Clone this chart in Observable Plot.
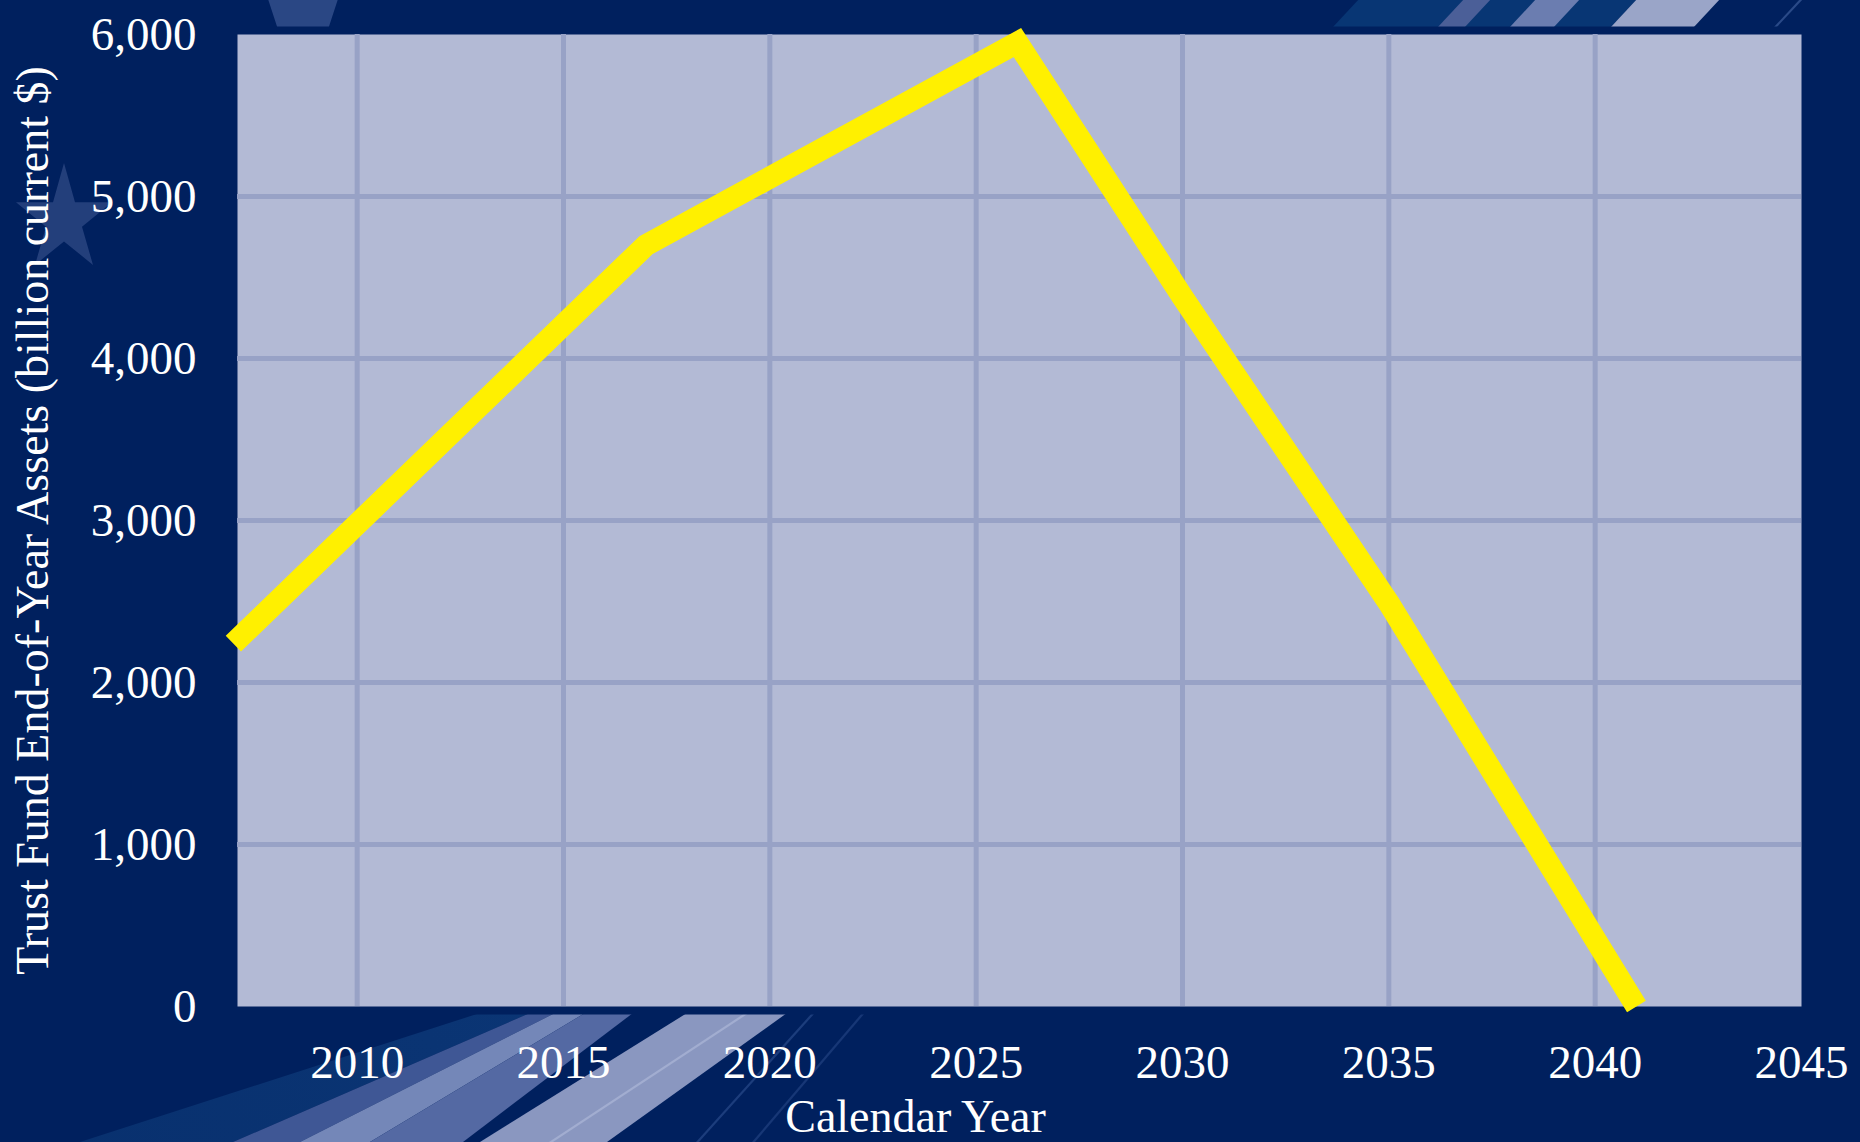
<!DOCTYPE html>
<html>
<head>
<meta charset="utf-8">
<script src="https://cdn.jsdelivr.net/npm/d3@7"></script>
<script src="https://cdn.jsdelivr.net/npm/@observablehq/plot@0.6"></script>
<style>
  html, body { margin: 0; padding: 0; background: #00205e; }
  #wrap { position: relative; width: 1860px; height: 1142px; overflow: hidden; background: #00205e; }
  .deco { position: absolute; pointer-events: none; }
  .band { position: absolute; left: 0; top: 1013px; width: 900px; height: 129px; }
  #stripes {
    left: 1300px; top: 0; width: 560px; height: 28px;
    transform-origin: bottom left; transform: skewX(-43deg);
  }
  #stripes div { position: absolute; top: 0; height: 28px; }
  .star {
    clip-path: polygon(50% 0%, 61% 35%, 98% 35%, 68% 57%, 79% 91%, 50% 70%, 21% 91%, 32% 57%, 2% 35%, 39% 35%);
    background: #233f7b;
  }
  #chart { position: absolute; left: 0; top: 0; }
</style>
</head>
<body>
<div id="wrap">
  <!-- decorative background sweeps (bottom left) -->
  <div class="deco band" style="background:linear-gradient(60deg,#08306e,#0c3878);clip-path:polygon(480px 0,530px 0,233px 129px,80px 129px);"></div>
  <div class="deco band" style="background:#3f5795;clip-path:polygon(530px 0,555px 0,300px 129px,233px 129px);"></div>
  <div class="deco band" style="background:#7487b8;clip-path:polygon(555px 0,585px 0,370px 129px,300px 129px);"></div>
  <div class="deco band" style="background:#5469a3;clip-path:polygon(585px 0,633px 0,463px 129px,370px 129px);"></div>
  <div class="deco band" style="background:#8a97c0;clip-path:polygon(687px 0,787px 0,607px 129px,480px 129px);"></div>
  <div class="deco band" style="background:#a2add0;clip-path:polygon(745px 0,749px 0,553px 129px,549px 129px);"></div>
  <div class="deco band" style="background:#1c3d7c;clip-path:polygon(812px 0,815px 0,699px 129px,696px 129px);"></div>
  <div class="deco band" style="background:#173776;clip-path:polygon(862px 0,865px 0,755px 129px,752px 129px);"></div>
  <!-- decorative stripes (top right) -->
  <div id="stripes" class="deco">
    <div style="left:32px;width:278px;background:#083674"></div>
    <div style="left:137px;width:27px;background:#4b5f98"></div>
    <div style="left:209px;width:44px;background:#6b7db0"></div>
    <div style="left:310px;width:83px;background:#9aa5c8"></div>
    <div style="left:473px;width:3px;background:#2a4a88"></div>
  </div>
  <!-- decorative stars -->
  <div class="deco star" style="left:14px;top:163px;width:100px;height:112px;"></div>
  <div class="deco star" style="left:123px;top:-240px;width:360px;height:346px;transform:rotate(180deg);background:#2a4784;"></div>
  <div id="chart"></div>
</div>
<script>
// Data
const years  = [2007, 2017, 2026, 2030, 2035, 2041];
const assets = [2240, 4700, 5950, 4380, 2490, 0];   // billion current $
const xTicks = [2010, 2015, 2020, 2025, 2030, 2035, 2040, 2045];
const yTicks = [0, 1000, 2000, 3000, 4000, 5000, 6000];
const xTitle = "Calendar Year";
const yTitle = "Trust Fund End-of-Year Assets (billion current $)";

const data = years.map((year, i) => ({year, assets: assets[i]}));

const navy = "#00205e";
const font = "'Liberation Serif', 'Times New Roman', serif";

const chart = Plot.plot({
  width: 1860,
  height: 1142,
  marginLeft: 237,
  marginRight: 59,
  marginTop: 34,
  marginBottom: 136,
  style: {background: "transparent", fontFamily: font, color: "#ffffff", overflow: "visible"},
  x: {domain: [2007.1, 2045]},
  y: {domain: [0, 6000]},
  marks: [
    Plot.frame({stroke: navy, strokeWidth: 16}),
    Plot.frame({fill: "#b3bad5"}),
    Plot.gridX(xTicks.filter(t => t < 2045), {stroke: "#98a2c6", strokeOpacity: 1, strokeWidth: 5}),
    Plot.gridY(yTicks.filter(t => t > 0 && t < 6000), {stroke: "#98a2c6", strokeOpacity: 1, strokeWidth: 5}),
    Plot.axisX(xTicks, {tickSize: 0, tickPadding: 38, tickFormat: d => String(d), fontSize: 47, fill: "#ffffff", label: null}),
    Plot.axisY(yTicks, {tickSize: 0, tickPadding: 41, tickFormat: d3.format(","), fontSize: 47, fill: "#ffffff", label: null}),
    Plot.line(data, {x: "year", y: "assets", stroke: "#fff000", strokeWidth: 22,
      strokeLinejoin: "miter", strokeLinecap: "butt", strokeMiterlimit: 10}),
    Plot.text([yTitle], {frameAnchor: "left", text: d => d, rotate: -90, dx: -204,
      fontSize: 46, fill: "#ffffff", textAnchor: "middle", lineAnchor: "middle"}),
    Plot.text([xTitle], {frameAnchor: "bottom", text: d => d, dx: -104, dy: 125,
      fontSize: 46, fill: "#ffffff", textAnchor: "middle", lineAnchor: "bottom"})
  ]
});
document.getElementById("chart").appendChild(chart);
</script>
</body>
</html>
